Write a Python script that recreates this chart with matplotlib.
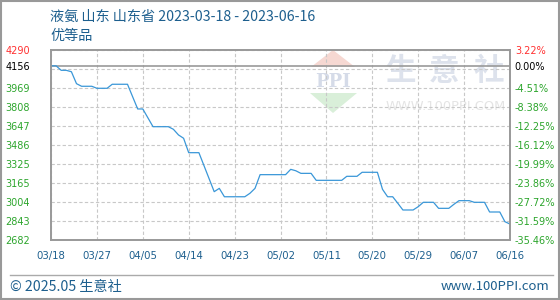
import matplotlib
matplotlib.use("Agg")
import matplotlib.pyplot as plt
import matplotlib.dates as mdates
import matplotlib.patches as mpatches
import pandas as pd
import numpy as np

# ---------------- data ----------------
dates = ["2023-03-18", "2023-03-19", "2023-03-20", "2023-03-21", "2023-03-22",
         "2023-03-23", "2023-03-24", "2023-03-26", "2023-03-27", "2023-03-29",
         "2023-03-30", "2023-04-02", "2023-04-03", "2023-04-04", "2023-04-05",
         "2023-04-07", "2023-04-10", "2023-04-11", "2023-04-12", "2023-04-13",
         "2023-04-14", "2023-04-16", "2023-04-19", "2023-04-20", "2023-04-21",
         "2023-04-25", "2023-04-26", "2023-04-27", "2023-04-28", "2023-05-03",
         "2023-05-04", "2023-05-05", "2023-05-06", "2023-05-08", "2023-05-09",
         "2023-05-14", "2023-05-15", "2023-05-17", "2023-05-18", "2023-05-21",
         "2023-05-22", "2023-05-23", "2023-05-24", "2023-05-25", "2023-05-26",
         "2023-05-28", "2023-05-29", "2023-05-30", "2023-06-01", "2023-06-02",
         "2023-06-04", "2023-06-05", "2023-06-06", "2023-06-08", "2023-06-09",
         "2023-06-11", "2023-06-12", "2023-06-14", "2023-06-15", "2023-06-16"]
prices = [4156, 4156, 4118, 4118, 4106,
          4005, 3983, 3983, 3966, 3966,
          4000, 4000, 3895, 3791, 3791,
          3641, 3641, 3619, 3571, 3543,
          3421, 3421, 3091, 3119, 3048,
          3048, 3077, 3119, 3235, 3235,
          3280, 3268, 3246, 3246, 3187,
          3187, 3221, 3221, 3255, 3255,
          3111, 3048, 3048, 2993, 2936,
          2936, 2964, 3001, 3001, 2950,
          2950, 2984, 3015, 3015, 3001,
          3001, 2919, 2919, 2837, 2817]

base_value = 4156
y_min, y_max = 2682, 4290
y_grid = [2682, 2842.8, 3003.6, 3164.4, 3325.2, 3486, 3646.8, 3807.6, 3968.4, 4129.2, 4290]
left_labels = ["2682", "2843", "3004", "3165", "3325", "3486", "3647", "3808", "3969", "", "4290"]
right_labels = ["-35.46%", "-31.59%", "-27.72%", "-23.86%", "-19.99%", "-16.12%",
                "-12.25%", "-8.38%", "-4.51%", "", "3.22%"]
base_left_label = "4156"
base_right_label = "0.00%"
x_ticks = ["2023-03-18", "2023-03-27", "2023-04-05", "2023-04-14", "2023-04-23",
           "2023-05-02", "2023-05-11", "2023-05-20", "2023-05-29", "2023-06-07",
           "2023-06-16"]

title_line1 = "液氨 山东 山东省 2023-03-18 - 2023-06-16"
title_line2 = "优等品"
footer_left = "© 2025.05 生意社"
footer_right = "www.100PPI.com"

# ---------------- styling ----------------
CJK = ["Noto Sans CJK SC", "DejaVu Sans"]
BLUE_TXT = "#1d5f8e"
GREEN = "#2ca52c"
RED = "#ff3030"
GRID = "#c8c8c8"
SPINE = "#999999"
LINE = "#3a97d8"

W, H = 560, 300
fig = plt.figure(figsize=(W / 100, H / 100), dpi=100, facecolor="white")

# decoration layer in pixel coords (behind the plot)
deco = fig.add_axes([0, 0, 1, 1], zorder=0)
deco.set_xlim(0, W)
deco.set_ylim(H, 0)
deco.axis("off")

# outer border
deco.add_patch(mpatches.Rectangle((0.75, 0.75), W - 1.5, H - 1.5, fill=False,
                                  edgecolor=SPINE, linewidth=1.5))
# footer separator
deco.plot([10, 553], [275, 275], color="#aaaaaa", linewidth=1.0)

# watermark
deco.add_patch(mpatches.Polygon([[333, 50], [311, 67], [355, 67]], closed=True,
                                facecolor="#f6d8d2", edgecolor="none"))
deco.add_patch(mpatches.Polygon([[310, 93], [357, 93], [333, 113]], closed=True,
                                facecolor="#d9efd9", edgecolor="none"))
deco.text(333, 82, "PPI", ha="center", va="center", fontsize=13, fontweight="bold",
          family="DejaVu Serif", color="#d5dbe8")
for cx, ch in zip([400, 444, 489], ["生", "意", "社"]):
    deco.text(cx, 71, ch, ha="center", va="center", fontsize=22, fontweight="bold",
              family=CJK, color="#dde2ec")
deco.text(446, 106, "WWW.100PPI.COM", ha="center", va="center", fontsize=9.4,
          family="DejaVu Sans", color="#e4e4e4")

# texts
deco.text(50, 17, title_line1, ha="left", va="center", fontsize=10.2,
          family=CJK, color=BLUE_TXT)
deco.text(50, 36, title_line2, ha="left", va="center", fontsize=10.2,
          family=CJK, color=BLUE_TXT)
deco.text(10, 287, footer_left, ha="left", va="center", fontsize=10.2,
          family=CJK, color=BLUE_TXT)
deco.text(549, 287, footer_right, ha="right", va="center", fontsize=9.5,
          family=CJK, color=BLUE_TXT)

# ---------------- main axes ----------------
L, R, T, B = 51, 510, 50, 240
ax = fig.add_axes([L / W, 1 - B / H, (R - L) / W, (B - T) / H], zorder=2)
ax.set_facecolor("none")

x = pd.to_datetime(dates)
xt = pd.to_datetime(x_ticks)
ax.set_xlim(xt[0], xt[-1])
ax.set_ylim(y_min, y_max)

for yv in y_grid:
    ax.axhline(yv, color=GRID, linestyle=(0, (3, 2)), linewidth=0.8, zorder=1)
for xv in xt:
    ax.axvline(xv, color=GRID, linestyle=(0, (3, 2)), linewidth=0.8, zorder=1)
ax.axhline(base_value, color=SPINE, linewidth=1.2, zorder=2)

ax.plot(x, prices, color=LINE, linewidth=0.9, zorder=3)

ax.set_xticks(xt)
ax.xaxis.set_major_formatter(mdates.DateFormatter("%m/%d"))
ax.tick_params(axis="x", length=0, pad=8, labelsize=7.3, labelcolor=BLUE_TXT)

ticks_left = list(y_grid) + [base_value]
labels_left = list(left_labels) + [base_left_label]
ax.set_yticks(ticks_left)
ax.set_yticklabels(labels_left)
ax.tick_params(axis="y", length=0, pad=33, labelsize=7)
for lbl in ax.get_yticklabels():
    lbl.set_horizontalalignment("left")
    t = lbl.get_text()
    if t == "4290":
        lbl.set_color(RED)
    elif t == base_left_label:
        lbl.set_color("black")
    else:
        lbl.set_color(GREEN)

for s in ax.spines.values():
    s.set_color(SPINE)
    s.set_linewidth(1.2)

ax2 = ax.twinx()
ax2.set_ylim(y_min, y_max)
ax2.set_yticks(list(y_grid) + [base_value])
ax2.set_yticklabels(list(right_labels) + [base_right_label])
ax2.tick_params(axis="y", length=0, pad=3.5, labelsize=7)
for lbl in ax2.get_yticklabels():
    t = lbl.get_text()
    if t == "3.22%":
        lbl.set_color(RED)
    elif t == base_right_label:
        lbl.set_color("black")
    else:
        lbl.set_color(GREEN)
for s in ax2.spines.values():
    s.set_color(SPINE)
    s.set_linewidth(1.2)

fig.savefig("out.png", dpi=100, facecolor="white")
